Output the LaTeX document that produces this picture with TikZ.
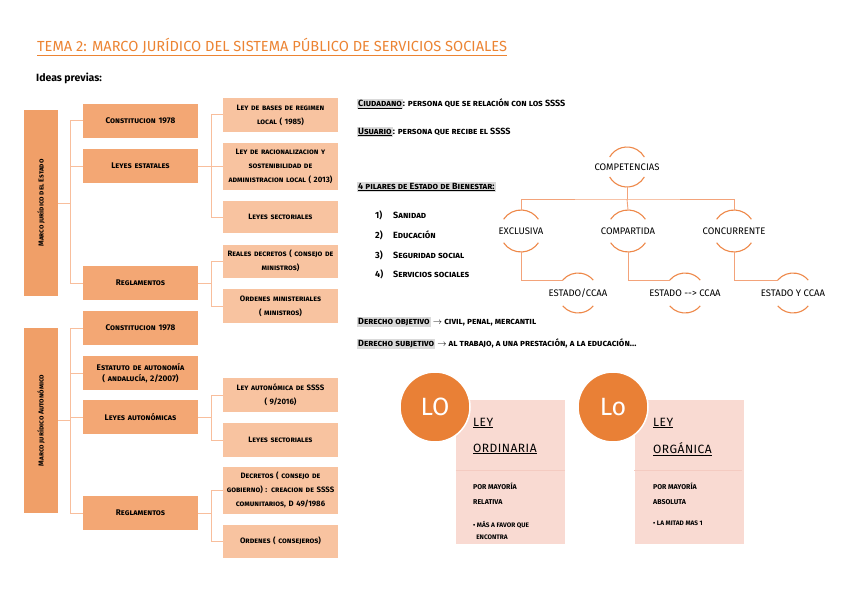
\documentclass[tikz,border=0pt]{standalone}
\usepackage{fontspec}
\setmainfont{Fira Sans}
\newfontfamily\hsc[Letters=SmallCaps]{Fira Sans}
\definecolor{titlec}{HTML}{EC8433}
\definecolor{bigc}{HTML}{F09F68}
\definecolor{midc}{HTML}{F3A774}
\definecolor{rc}{HTML}{F8C3A0}
\definecolor{connc}{HTML}{F8BE9C}
\definecolor{arcc}{HTML}{EE8849}
\definecolor{linec}{HTML}{F3A37A}
\definecolor{loc}{HTML}{E98036}
\definecolor{cardc}{HTML}{F9DAD2}
\definecolor{cardl}{HTML}{F4CBC1}
\definecolor{hl}{HTML}{D9D9D9}
\setlength{\fboxsep}{1pt}
\newcommand{\hlu}[1]{\colorbox{hl}{\underline{#1}}}
\newcommand{\hlb}[1]{\colorbox{hl}{#1}}
\begin{document}
\begin{tikzpicture}[x=1pt,y=-1pt,
  bigbox/.style={fill=bigc, minimum width=34pt, inner sep=0pt, font=\hsc\bfseries\fontsize{7.2}{8}\selectfont},
  midbox/.style={fill=midc, minimum width=115pt, minimum height=34pt, text width=113pt, align=center, inner sep=1pt, font=\hsc\bfseries\fontsize{8.2}{10.5}\selectfont},
  rbox/.style={fill=rc, minimum width=115pt, minimum height=#1, text width=113pt, align=center, inner sep=1pt, font=\hsc\bfseries\fontsize{7.8}{14}\selectfont},
  conn/.style={draw=connc, line width=1pt},
  txt/.style={anchor=west, inner sep=0pt, font=\hsc\bfseries\fontsize{9}{10}\selectfont},
  comp/.style={inner sep=1pt, font=\fontsize{9.5}{11}\selectfont},
  arcline/.style={draw=arcc, line width=1.1pt},
  tline/.style={draw=linec, line width=0.9pt},
  card/.style={fill=cardc, minimum width=109pt, minimum height=144pt, inner sep=0pt},
  lo/.style={circle, fill=loc, draw=white, line width=1.5pt, minimum size=70pt, inner sep=0pt, text=white, font=\fontsize{25}{25}\selectfont},
  cardtitle/.style={anchor=west, inner sep=0pt, font=\addfontfeature{LetterSpace=4}\fontsize{12}{13}\selectfont},
  cardtext/.style={anchor=west, inner sep=0pt, font=\bfseries\fontsize{7}{8}\selectfont},
  cardsmall/.style={anchor=west, inner sep=0pt, align=left, font=\bfseries\fontsize{6.5}{12}\selectfont}
]
\useasboundingbox[fill=white] (0,0) rectangle (848,599);

% title
\node[anchor=west, inner sep=0pt, text=titlec, font=\fontsize{14.6}{16}\selectfont] (title) at (37,47) {\underline{TEMA 2: MARCO JURÍDICO DEL SISTEMA PÚBLICO DE SERVICIOS SOCIALES}};
\node[anchor=west, inner sep=0pt, font=\bfseries\fontsize{10.5}{12}\selectfont] (ideas) at (36,78) {Ideas previas:};

% ---------- tree 1
\node[bigbox, minimum height=186pt] (A) at (41,203) {\rotatebox{90}{Marco jurídico del Estado}};
\node[midbox] (c1) at (140.5,121) {Constitucion 1978};
\node[midbox] (c2) at (140.5,166) {Leyes estatales};
\node[midbox] (c3) at (140.5,283) {Reglamentos};
\node[rbox=34pt] (r1) at (280.5,115) {Ley de bases de regimen\\local ( 1985)};
\node[rbox=47pt] (r2) at (280.5,166) {Ley de racionalizacion y\\sostenibilidad de\\administracion local ( 2013)};
\node[rbox=32pt] (r3) at (280.5,217) {Leyes sectoriales};
\node[rbox=33pt] (r4) at (280.5,261) {Reales decretos ( consejo de\\ministros)};
\node[rbox=34pt] (r5) at (280.5,306) {Ordenes ministeriales\\( ministros)};
\coordinate (j1) at (70,203);
\coordinate (j2) at (211,166);
\coordinate (j3) at (211,283);
\draw[conn] (A.east) -- (j1);
\draw[conn] (c1.west) -| (j1);
\draw[conn] (c2.west) -| (j1);
\draw[conn] (c3.west) -| (j1);
\draw[conn] (c2.east) -- (j2);
\draw[conn] (r1.west) -| (j2);
\draw[conn] (r2.west) -- (j2);
\draw[conn] (r3.west) -| (j2);
\draw[conn] (c3.east) -- (j3);
\draw[conn] (r4.west) -| (j3);
\draw[conn] (r5.west) -| (j3);

% ---------- tree 2
\node[bigbox, minimum height=185pt] (B) at (41,420.5) {\rotatebox{90}{Marco jurídico Autonómico}};
\node[midbox] (d1) at (140.5,328) {Constitucion 1978};
\node[midbox] (d2) at (140.5,373) {Estatuto de autonomía\\( andalucía, 2/2007)};
\node[midbox] (d3) at (140.5,417) {Leyes autonómicas};
\node[midbox] (d4) at (140.5,513) {Reglamentos};
\node[rbox=34pt] (s1) at (280.5,395) {Ley autonómica de SSSS\\( 9/2016)};
\node[rbox=34pt] (s2) at (280.5,440) {Leyes sectoriales};
\node[rbox=47pt] (s3) at (280.5,490) {Decretos ( consejo de\\gobierno) : creacion de SSSS\\comunitarios, D 49/1986};
\node[rbox=33pt] (s4) at (280.5,541) {Ordenes ( consejeros)};
\coordinate (k1) at (70,420.5);
\coordinate (k2) at (211,417);
\coordinate (k3) at (211,513);
\draw[conn] (B.east) -- (k1);
\draw[conn] (d1.west) -| (k1);
\draw[conn] (d2.west) -| (k1);
\draw[conn] (d3.west) -| (k1);
\draw[conn] (d4.west) -| (k1);
\draw[conn] (d3.east) -- (k2);
\draw[conn] (s1.west) -| (k2);
\draw[conn] (s2.west) -| (k2);
\draw[conn] (d4.east) -- (k3);
\draw[conn] (s3.west) -| (k3);
\draw[conn] (s4.west) -| (k3);

% ---------- right text
\node[txt] (ciud) at (357,104) {\hlu{Ciudadano}: persona que se relación con los SSSS};
\node[txt] (usu) at (357,132) {\hlu{Usuario}: persona que recibe el SSSS};
\node[txt] (pil) at (357,187) {\hlu{4 pilares de Estado de Bienestar:}};
\node[txt] (n1) at (375,215) {1)};
\node[txt] (n2) at (375,235) {2)};
\node[txt] (n3) at (375,255) {3)};
\node[txt] (n4) at (375,274) {4)};
\node[txt] (p1) at (393,215) {Sanidad};
\node[txt] (p2) at (393,235) {Educación};
\node[txt] (p3) at (393,255) {Seguridad social};
\node[txt] (p4) at (393,274) {Servicios sociales};
\node[txt] (dob) at (357,322) {\hlb{Derecho objetivo} $\rightarrow$ civil,\ penal,\ mercantil};
\node[txt] (dsub) at (357,344) {\hlb{Derecho subjetivo} $\rightarrow$ al trabajo,\ a una prestación,\ a la educación...};

% ---------- competencias tree
\node[comp] (cp) at (627,167) {COMPETENCIAS};
\node[comp] (ex) at (521,231) {EXCLUSIVA};
\node[comp] (co) at (628,231) {COMPARTIDA};
\node[comp] (cc) at (734,231) {CONCURRENTE};
\node[comp] (g1) at (578,293) {ESTADO/CCAA};
\node[comp] (g2) at (685,293) {ESTADO -{}-> CCAA};
\node[comp] (g3) at (793,293) {ESTADO Y CCAA};
\coordinate (hl) at (0,199);
\draw[arcline] ([shift={(150:20pt)}]cp.center) arc[start angle=150, end angle=30, radius=20pt];
\draw[arcline] ([shift={(210:20pt)}]cp.center) arc[start angle=210, end angle=330, radius=20pt];
\foreach \n in {ex,co,cc}{
  \draw[arcline] ([shift={(146:21pt)}]\n.center) arc[start angle=146, end angle=34, radius=21pt];
  \draw[arcline] ([shift={(214:21pt)}]\n.center) arc[start angle=214, end angle=326, radius=21pt];
}
\foreach \n in {g1,g2,g3}{
  \draw[arcline] ([shift={(140:20pt)}]\n.center) arc[start angle=140, end angle=40, radius=20pt];
  \draw[arcline] ([shift={(220:20pt)}]\n.center) arc[start angle=220, end angle=320, radius=20pt];
}
\draw[tline] ([yshift=-20pt]cp.center) -- (cp.center |- hl);
\draw[tline] ([yshift=21pt]ex.center) |- (cp.center |- hl) -| ([yshift=21pt]cc.center);
\draw[tline] (cp.center |- hl) -- ([yshift=21pt]co.center);
\draw[tline] ([yshift=-21pt]ex.center) |- ([shift={(140:20pt)}]g1.center);
\draw[tline] ([yshift=-21pt]co.center) |- ([shift={(140:20pt)}]g2.center);
\draw[tline] ([yshift=-21pt]cc.center) |- ([shift={(140:20pt)}]g3.center);

% ---------- LO cards
\node[card] (k1c) at (510.5,472) {};
\draw[cardl, line width=0.8pt] (k1c.north west) ++(0,71) -- ++(109,0);
\node[lo] (lo1) at (435,407) {LO};
\node[cardtitle] (t1a) at (473,423) {\underline{LEY}};
\node[cardtitle] (t1b) at (473,449) {\underline{ORDINARIA}};
\node[cardtext] (m1a) at (473,486) {POR MAYORÍA};
\node[cardtext] (m1b) at (473,502) {RELATIVA};
\node[cardsmall] (m1c) at (473,530) {• MÁS A FAVOR QUE\\\ \ ENCONTRA};

\node[card] (k2c) at (689,472) {};
\draw[cardl, line width=0.8pt] (k2c.north west) ++(0,71) -- ++(108,0);
\node[lo] (lo2) at (613,407) {Lo};
\node[cardtitle] (t2a) at (653,423) {\underline{LEY}};
\node[cardtitle] (t2b) at (653,449) {\underline{ORGÁNICA}};
\node[cardtext] (m2a) at (653,486) {POR MAYORÍA};
\node[cardtext] (m2b) at (653,502) {ABSOLUTA};
\node[cardsmall] (m2c) at (653,523) {• LA MITAD MAS 1};
\end{tikzpicture}
\end{document}
